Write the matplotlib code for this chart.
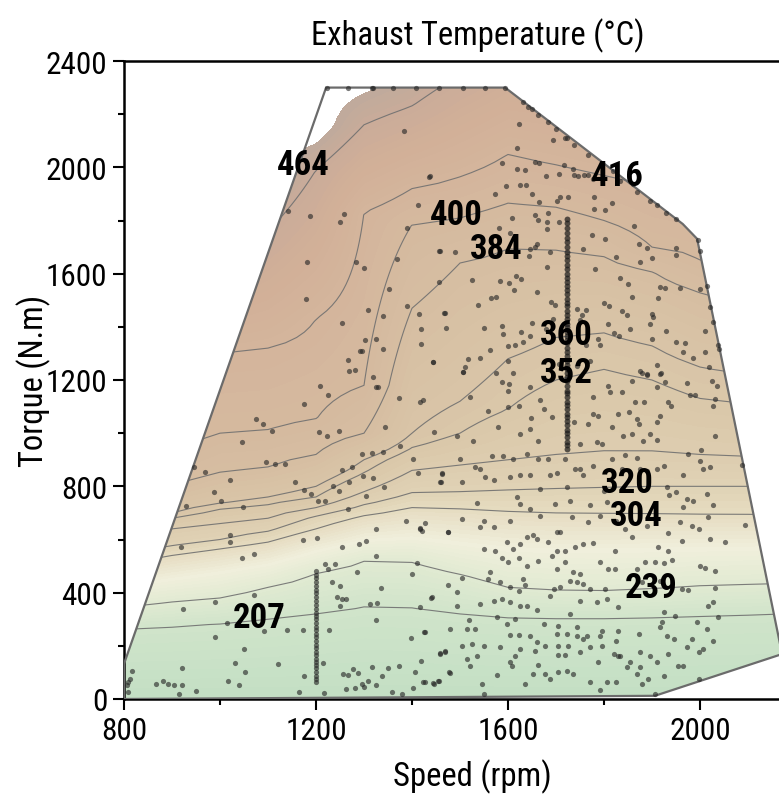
"""Exhaust temperature map: filled isotherms over speed/torque with test points."""
import numpy as np
import matplotlib
matplotlib.use("Agg")
from matplotlib import pyplot as plt
from matplotlib import font_manager
from matplotlib.colors import LinearSegmentedColormap
from matplotlib.patches import Polygon
from matplotlib.ticker import MultipleLocator


def pick_narrow_font():
    """Find a condensed sans face; fall back to a plain one."""
    fonts = font_manager.fontManager.ttflist
    names = {f.name for f in fonts}
    for fam in ("Liberation Sans Narrow", "Arial Narrow", "Roboto Condensed",
                "Open Sans Condensed", "Noto Sans Condensed", "DejaVu Sans Condensed"):
        if fam in names:
            return fam, "normal"
    for fam in ("Noto Sans", "DejaVu Sans", "Open Sans", "Roboto", "Liberation Sans"):
        for f in fonts:
            if f.name == fam and f.stretch in ("condensed", "semi-condensed", 400, 300):
                return fam, f.stretch
    for f in fonts:
        if "Condensed" in f.name or "Narrow" in f.name:
            return f.name, "normal"
    return "Liberation Sans", "normal"


NARROW, STRETCH = pick_narrow_font()
plt.rcParams["font.family"] = [NARROW, "DejaVu Sans"]
plt.rcParams["font.stretch"] = STRETCH

# ---- isotherms: torque (N.m) where each level is crossed ----
iso_levels = [175, 207, 239, 271, 304, 320, 336, 352, 360, 384, 400, 416, 464, 490]
iso_speed = [800, 900, 1000, 1100, 1200, 1300, 1400, 1500,
             1600, 1700, 1800, 1900, 2000, 2100, 2200]
iso_torque = [
    [0, 265, 345, 430, 510, 545, 590, 630, 655, 745, 850, 1000, 1350, 1600],
    [0, 275, 365, 455, 540, 575, 640, 680, 700, 800, 920, 1150, 1500, 1750],
    [0, 285, 380, 480, 565, 600, 660, 715, 735, 850, 1000, 1300, 1650, 1850],
    [0, 300, 420, 510, 590, 630, 680, 730, 760, 870, 1010, 1320, 1760, 2000],
    [0, 320, 474, 560, 640, 690, 720, 760, 800, 920, 1050, 1430, 1990, 2150],
    [0, 350, 519, 600, 690, 730, 780, 850, 900, 1000, 1180, 1830, 2160, 2350],
    [0, 345, 516, 610, 720, 775, 860, 945, 1000, 1470, 1785, 1920, 2230, 2450],
    [0, 320, 470, 590, 715, 780, 880, 1000, 1120, 1640, 1810, 1965, 2350, 2550],
    [0, 310, 420, 570, 705, 785, 900, 1090, 1280, 1695, 1865, 2050, 2450, 2650],
    [0, 305, 408, 565, 700, 790, 920, 1200, 1360, 1690, 1850, 2010, 2450, 2650],
    [0, 305, 406, 565, 698, 795, 930, 1240, 1378, 1665, 1800, 1970, 2400, 2600],
    [0, 310, 414, 568, 696, 800, 930, 1200, 1330, 1610, 1700, 1930, 2400, 2600],
    [0, 315, 425, 570, 693, 800, 920, 1130, 1250, 1530, 1648, 1900, 2400, 2600],
    [0, 318, 430, 572, 692, 800, 910, 1110, 1220, 1480, 1620, 1870, 2350, 2550],
    [0, 322, 435, 575, 690, 800, 900, 1100, 1200, 1450, 1600, 1850, 2350, 2550],
]
line_levels = [207, 239, 304, 320, 336, 352, 360, 384, 400, 416, 464]

# labelled isotherms and where their labels sit (speed, torque)
label_levels = [464, 416, 400, 384, 360, 352, 320, 304, 239, 207]
label_speed = [1173, 1827, 1492, 1576, 1722, 1722, 1848, 1867, 1898, 1081]
label_torque = [2010, 1968, 1822, 1694, 1370, 1227, 815, 690, 418, 305]

# outline of the measured operating range
hull_speed = [800, 1906, 2171, 1994, 1964, 1594, 1221, 800]
hull_torque = [0, 12, 169, 1731, 1787, 2300, 2300, 132]

# ---- measured operating points ----
full_load_speed = [1222, 1267, 1316, 1319, 1361, 1408, 1457, 1506, 1552, 1594]
full_load_torque = [2300] * len(full_load_speed)

sweep_1200_torque = [482, 468, 455, 440, 425, 410, 398, 383, 370, 355, 340, 325,
                     312, 300, 287, 272, 260, 245, 232, 218, 205, 190, 178, 165,
                     152, 140, 128, 115, 100, 88, 75, 64]
sweep_1720_torque = [940, 955, 968, 985, 1000, 1012, 1030, 1045, 1060, 1072, 1090,
                     1105, 1118, 1135, 1150, 1160, 1178, 1195, 1210, 1225, 1240,
                     1258, 1270, 1290, 1305, 1320, 1338, 1350, 1365, 1382, 1398,
                     1410, 1428, 1445, 1460, 1478, 1490, 1505, 1522, 1540, 1555,
                     1568, 1585, 1600, 1618, 1632, 1650, 1665, 1680, 1700, 1718,
                     1735, 1752, 1770, 1790, 1806]

edge_points = [
    (1632, 2245), (1642, 2227), (1649, 2218), (1663, 2195), (1684, 2170),
    (1701, 2143), (1722, 2111), (1737, 2085), (1766, 2045), (1868, 1907),
    (1896, 1875), (1910, 1859), (1930, 1829), (1951, 1804), (1995, 1725),
    (1999, 1687), (2014, 1555), (2021, 1474), (2028, 1418), (2038, 1330),
    (2040, 1317),
]

upper_left_points = [
    (1383, 2135), (1436, 1964), (1142, 1836), (1187, 1816), (1258, 1826),
    (1250, 1794), (1412, 1859), (1389, 1772), (1182, 1644), (1283, 1644),
    (1300, 1621), (1457, 1685), (1369, 1656), (1457, 1570), (1353, 1543),
    (1180, 1505), (1390, 1478), (1308, 1465), (1339, 1439), (1414, 1448),
    (1467, 1453), (1255, 1415), (1419, 1390), (1302, 1351), (1326, 1355),
    (1339, 1317), (1292, 1310), (1296, 1310), (1418, 1335), (1267, 1275),
    (1443, 1269), (1269, 1234), (1281, 1239), (1319, 1213),
]

upper_right_points = [
    (1623, 2164), (1694, 2101), (1719, 2110), (1618, 2072), (1438, 1966),
    (1588, 2017), (1618, 1992), (1635, 1991), (1656, 2019), (1665, 2017),
    (1680, 1967), (1707, 1976), (1717, 2010), (1736, 1995), (1737, 1970),
    (1746, 1966), (1758, 1970), (1767, 1970), (1778, 1957), (1596, 1928),
    (1573, 1900), (1625, 1935), (1637, 1934), (1651, 1900), (1664, 1869),
    (1684, 1829), (1703, 1875), (1708, 1887), (1726, 1890), (1779, 1887),
    (1816, 1866), (1779, 1844), (1802, 1838), (1833, 1947), (1861, 1938),
    (1819, 1988), (1656, 1819), (1663, 1803), (1609, 1809), (1582, 1772),
    (1604, 1754), (1682, 1794), (1682, 1769), (1707, 1796), (1774, 1744),
    (1803, 1731), (1863, 1779), (1873, 1712), (1889, 1697), (1899, 1660),
    (1875, 1643), (1950, 1696), (1949, 1671), (1826, 1662), (1833, 1584),
    (1851, 1562), (1782, 1618), (1757, 1693), (1458, 1685), (1490, 1681),
    (1526, 1577), (1583, 1574), (1603, 1565), (1617, 1590), (1627, 1580),
    (1646, 1691), (1656, 1700), (1644, 1668), (1660, 1712), (1687, 1681),
    (1682, 1624), (1613, 1540), (1660, 1530), (1690, 1495), (1564, 1509),
    (1576, 1512), (1538, 1483), (1469, 1453), (1471, 1395), (1551, 1395),
    (1587, 1405), (1589, 1374), (1628, 1380), (1649, 1415), (1800, 1489),
    (1811, 1480), (1837, 1459), (1847, 1445), (1858, 1512), (1899, 1449),
    (1896, 1411), (1903, 1436), (1916, 1549), (1927, 1545), (1958, 1545),
    (1913, 1508), (1999, 1543), (2011, 1386), (1809, 1409), (1821, 1377),
    (1831, 1367), (1855, 1390), (1901, 1355), (1930, 1386), (1950, 1342),
    (1969, 1340), (1965, 1305), (2010, 1305), (2019, 1248), (1986, 1283),
    (1911, 1257), (1918, 1227), (1889, 1223), (1875, 1235), (1763, 1465),
    (1743, 1468), (1755, 1443), (1750, 1424), (1763, 1330), (1792, 1333),
    (1788, 1355), (1771, 1271), (1743, 1254), (1698, 1483), (1693, 1430),
    (1680, 1390), (1707, 1261), (1601, 1327), (1615, 1333), (1632, 1342),
    (1646, 1367), (1563, 1311), (1542, 1282), (1517, 1279), (1507, 1229),
    (1510, 1248), (1444, 1269), (1601, 1273), (1610, 1227), (1575, 1227),
]

lower_left_points = [
    (1208, 1177), (1226, 1144), (1326, 1173), (1330, 1173), (1174, 1110),
    (1373, 1133), (1417, 1119), (1076, 1054), (1089, 1035), (1109, 1010),
    (1206, 1006), (1222, 988), (1247, 1007), (1344, 1022), (1046, 965),
    (1375, 953), (946, 872), (969, 853), (1095, 891), (1115, 884),
    (1135, 884), (1296, 923), (1316, 926), (1339, 928), (1403, 903),
    (1021, 824), (1157, 815), (1255, 861), (1276, 874), (1297, 838),
    (1318, 830), (1413, 849), (988, 780), (1003, 746), (929, 727),
    (1048, 724), (1174, 787), (1190, 770), (1205, 746), (1219, 746),
    (1235, 803), (1247, 783), (1269, 818), (1305, 762), (1342, 799),
    (1266, 715), (1462, 847), (1460, 818), (1387, 670), (1417, 642),
    (1421, 632), (1427, 662), (1474, 627), (919, 573), (1021, 618),
    (1021, 590), (1172, 598), (1203, 606), (1046, 532), (1071, 544),
    (1255, 572), (1290, 582), (1305, 596), (1324, 641), (1219, 507),
    (1226, 489), (1240, 508), (1285, 477), (1324, 539), (1401, 470),
    (1410, 512), (1234, 441), (1249, 426), (1244, 383), (1254, 376),
    (1262, 376), (1250, 349), (1335, 418), (1070, 391), (990, 364),
    (923, 339), (1313, 358), (1328, 360), (1326, 297), (1439, 381),
    (1476, 430), (1014, 286), (990, 235), (1092, 255), (1139, 260),
    (1172, 261), (1228, 260), (1051, 188), (1032, 135), (1052, 100),
    (1121, 133), (1175, 85), (1214, 135), (921, 115), (817, 105),
    (812, 75), (808, 64), (806, 53), (808, 27), (866, 55),
    (881, 67), (892, 55), (904, 53), (920, 53), (914, 18),
    (950, 31), (1017, 68), (1040, 53), (1165, 27), (1217, 23),
    (1257, 94), (1267, 90), (1278, 113), (1287, 98), (1262, 38),
    (1281, 43), (1295, 56), (1301, 44), (1308, 69), (1317, 122),
    (1326, 53), (1337, 85), (1349, 117), (1373, 125), (1358, 25),
    (1380, 18), (1397, 228), (1426, 251), (1418, 144), (1406, 100),
    (1403, 41), (1422, 65), (1444, 60), (1457, 69), (1458, 173),
    (1469, 182), (1477, 100),
]

lower_right_points = [
    (1507, 1229), (1587, 1192), (1603, 1186), (1601, 1160), (1521, 1135),
    (1646, 1173), (1667, 1123), (1674, 1091), (1691, 1060), (1778, 1135),
    (1809, 1179), (1813, 1154), (1837, 1154), (1858, 1198), (1879, 1227),
    (1889, 1217), (1917, 1223), (1927, 1192), (1911, 1173), (1972, 1189),
    (2024, 1198), (2035, 1179), (1979, 1144), (1990, 1144), (2028, 1104),
    (2031, 1129), (1934, 1117), (1939, 1101), (1865, 1117), (1883, 1119),
    (1423, 1123), (1445, 1004), (1493, 991), (1528, 972), (1559, 1085),
    (1580, 1022), (1601, 1098), (1622, 1104), (1625, 997), (1646, 1016),
    (1648, 1056), (1663, 972), (1738, 1041), (1750, 960), (1767, 1035),
    (1778, 1073), (1788, 1066), (1785, 966), (1795, 960), (1816, 1022),
    (1830, 1073), (1853, 1079), (1840, 991), (1844, 916), (1868, 1054),
    (1872, 1035), (1858, 997), (1882, 972), (1896, 997), (1910, 1041),
    (1917, 1066), (1911, 976), (2031, 991), (2003, 935),
    (1500, 903), (1462, 851), (1459, 815), (1504, 815), (1532, 872),
    (1542, 866), (1552, 834), (1566, 913), (1571, 822), (1589, 913),
    (1604, 834), (1611, 903), (1625, 841), (1639, 922), (1646, 843),
    (1663, 903), (1667, 790), (1684, 903), (1688, 841), (1702, 851),
    (1719, 903), (1722, 797), (1740, 866), (1750, 866), (1757, 841),
    (1778, 878), (1799, 784), (1816, 903), (1837, 866), (1868, 906),
    (1875, 866), (1889, 859), (1910, 866), (1924, 878), (1931, 797),
    (1965, 841), (1976, 922), (2000, 897), (2007, 866), (2021, 872),
    (2014, 772), (2087, 881), (1936, 768), (1951, 778), (1972, 753),
    (1986, 743),
    (1417, 640), (1476, 627), (1504, 677), (1535, 738), (1549, 671),
    (1542, 646), (1570, 646), (1604, 671), (1618, 759), (1625, 734),
    (1646, 715), (1667, 690), (1698, 734), (1702, 627), (1708, 627),
    (1729, 746), (1733, 684), (1771, 728), (1767, 665), (1792, 690),
    (1806, 740), (1826, 671), (1844, 640), (1858, 608), (1889, 652),
    (1934, 625), (1958, 665), (1965, 721), (1983, 652), (1962, 596),
    (1997, 640), (2017, 684), (2021, 602), (2028, 728), (2052, 590),
    (2094, 655), (1549, 565), (1573, 558), (1597, 590), (1611, 565),
    (1625, 583), (1639, 608), (1653, 617), (1660, 602), (1684, 590),
    (1702, 558), (1719, 558), (1740, 571), (1757, 583), (1778, 587),
    (1823, 558), (1913, 571), (1934, 558),
    (1587, 529), (1601, 514), (1622, 529), (1639, 502), (1663, 521),
    (1691, 539), (1702, 489), (1719, 514), (1736, 477), (1750, 470),
    (1792, 517), (1809, 489), (1823, 489), (1868, 489), (1885, 514),
    (1906, 517), (1924, 512), (1941, 524), (2000, 502), (2010, 492),
    (2031, 483), (1504, 454), (1563, 477), (1559, 452), (1584, 439),
    (1604, 420), (1622, 408), (1636, 427), (1632, 452), (1695, 414),
    (1708, 420), (1729, 445), (1743, 439), (1757, 433), (1771, 414),
    (1802, 414), (1879, 439), (1917, 445), (1962, 414), (1976, 411),
    (2031, 417), (1441, 383), (1493, 404), (1541, 358), (1570, 370),
    (1587, 376), (1604, 364), (1625, 349), (1639, 351), (1660, 333),
    (1688, 389), (1729, 320), (1750, 370), (1785, 364), (1806, 376),
    (1830, 345), (2028, 364), (2017, 351), (1924, 326), (1948, 311),
    (1493, 348), (1417, 345), (1518, 299), (1577, 307), (1597, 282),
    (1615, 301), (1674, 282), (1705, 276), (1743, 270), (1764, 238),
    (1795, 257), (1830, 257), (1872, 245), (1917, 270), (1920, 289),
    (1993, 289), (2014, 263), (2038, 307), (1427, 251), (1479, 263),
    (1514, 263), (1532, 263), (1604, 241), (1622, 242), (1646, 238),
    (1660, 213), (1702, 245), (1722, 245), (1743, 238), (1757, 226),
    (1792, 238), (1826, 220), (1931, 238), (1945, 226), (1983, 226),
    (2028, 220), (1504, 201), (1525, 207), (1549, 201), (1584, 195),
    (1625, 188), (1656, 182), (1677, 201), (1705, 201), (1726, 201),
    (1771, 195), (1795, 201), (1833, 163), (1875, 176), (1896, 163),
    (1934, 169), (1972, 195), (1997, 176), (2007, 188), (1459, 169),
    (1469, 176), (1514, 151), (1535, 163), (1604, 138), (1615, 163),
    (1663, 128), (1705, 166), (1719, 166), (1750, 176), (1788, 138),
    (1820, 169), (1830, 163), (1854, 138), (1875, 119), (1910, 138),
    (1955, 125), (1965, 125), (1997, 75), (1479, 97), (1521, 125),
    (1577, 90), (1608, 125), (1653, 94), (1677, 94), (1688, 75),
    (1705, 100), (1722, 107), (1736, 94), (1771, 65), (1806, 63),
    (1826, 63), (1847, 119), (1868, 94), (1892, 75), (1924, 88),
    (1879, 56), (1427, 63), (1445, 56), (1455, 69), (1545, 56),
    (1636, 56), (1792, 35), (1549, 19), (1906, 19),
]

# ---- temperature field from the isotherm table ----
torque_fine = np.arange(0, 2501, 20)
field = np.array([np.interp(torque_fine, row, iso_levels) for row in iso_torque]).T

cmap = LinearSegmentedColormap.from_list(
    "exhaust",
    [(0.00, "#c3dfc4"), (0.10, "#d0e4ca"), (0.21, "#e1ead2"), (0.31, "#f0efdc"),
     (0.42, "#e6dcc1"), (0.47, "#e0d3b6"), (0.58, "#dac7a9"), (0.68, "#d6bea2"),
     (0.79, "#d4b59c"), (0.87, "#d2b098"), (0.94, "#cbac99"), (1.00, "#bfaa9c")],
)
fill_levels = np.linspace(176, 480, 77)

fig = plt.figure(figsize=(7.79, 8.03), dpi=100)
ax = fig.add_axes([124 / 779, 103 / 803, 696 / 779, 638 / 803])

hull = Polygon(np.column_stack([hull_speed, hull_torque]), closed=True,
               transform=ax.transData, facecolor="none", edgecolor="#6b6b6b",
               linewidth=1.6, zorder=3)
ax.add_patch(hull)

cf = ax.contourf(iso_speed, torque_fine, field, levels=fill_levels, cmap=cmap,
                 extend="min", zorder=1)
cf.set_clip_path(hull)
cl = ax.contour(iso_speed, torque_fine, field, levels=line_levels,
                colors="#707070", linewidths=0.8, alpha=0.9, zorder=2)
cl.set_clip_path(hull)

# points
groups = [edge_points, upper_left_points, upper_right_points,
          lower_left_points, lower_right_points]
pts = np.array([p for g in groups for p in g], dtype=float)
dot = dict(s=14, color="#262626", alpha=0.62, linewidths=0, zorder=4)
ax.scatter(pts[:, 0], pts[:, 1], **dot)
ax.scatter(full_load_speed, full_load_torque, **dot)
ax.scatter([1200] * len(sweep_1200_torque), sweep_1200_torque, **dot)
ax.scatter([1722] * len(sweep_1720_torque), sweep_1720_torque,
           s=18, color="#1a1a1a", alpha=0.7, linewidths=0, zorder=4)

for lev, sx, ty in zip(label_levels, label_speed, label_torque):
    ax.text(sx, ty, f"{lev}", fontsize=25, fontweight="bold", color="black",
            ha="center", va="center", zorder=5)

ax.set_xlim(800, 2250)
ax.set_ylim(0, 2400)
ax.xaxis.set_major_locator(MultipleLocator(400))
ax.xaxis.set_minor_locator(MultipleLocator(200))
ax.yaxis.set_major_locator(MultipleLocator(400))
ax.yaxis.set_minor_locator(MultipleLocator(200))
ax.tick_params(which="major", direction="out", length=8, width=1.5,
               labelsize=22.5, pad=4)
ax.tick_params(which="minor", direction="out", length=4.5, width=1.5)
for side in ("left", "bottom", "top"):
    ax.spines[side].set_linewidth(1.8)
ax.spines["right"].set_visible(False)

ax.set_xlabel("Speed (rpm)", fontsize=23.5, labelpad=10)
ax.set_ylabel("Torque (N.m)", fontsize=23.5)
ax.yaxis.set_label_coords(-0.105, 0.5)
ax.set_title("Exhaust Temperature (°C)", fontsize=23.5, pad=12, x=0.508)

fig.savefig("out.png", dpi=100)
